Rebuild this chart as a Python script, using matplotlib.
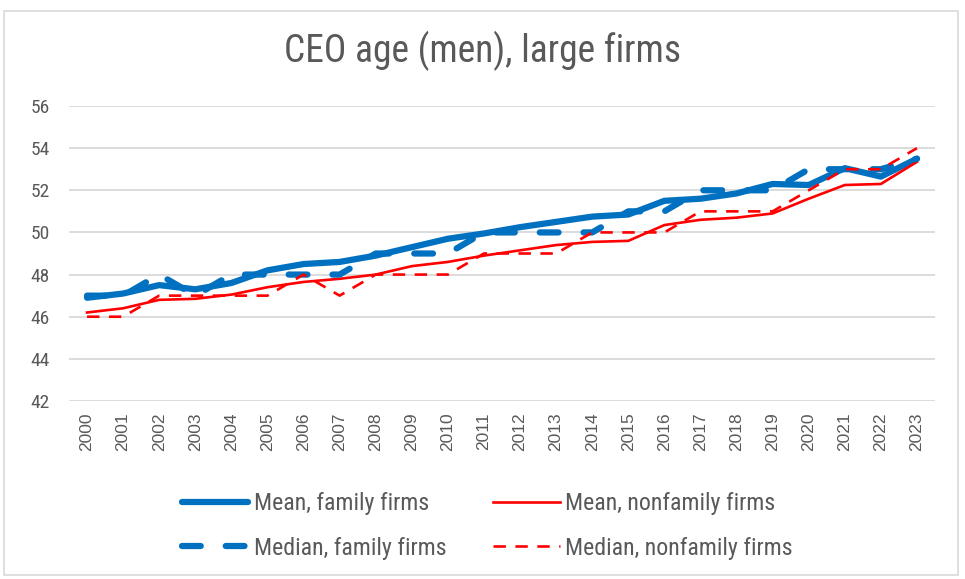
import matplotlib.pyplot as plt
from matplotlib.patches import Rectangle
from matplotlib import font_manager

# CEO age of men running large firms, family vs nonfamily
years = [str(y) for y in range(2000, 2024)]

mean_family = [46.9, 47.1, 47.5, 47.3, 47.6, 48.2, 48.5, 48.6, 48.9, 49.3,
               49.7, 49.95, 50.25, 50.5, 50.75, 50.85, 51.5, 51.6, 51.85, 52.3,
               52.25, 53.05, 52.65, 53.5]
mean_nonfamily = [46.2, 46.4, 46.8, 46.85, 47.05, 47.4, 47.65, 47.8, 48.0, 48.4,
                  48.6, 48.9, 49.15, 49.4, 49.55, 49.6, 50.35, 50.6, 50.7, 50.9,
                  51.6, 52.25, 52.3, 53.35]
median_family = [47, 47, 48, 47, 48, 48, 48, 48, 49, 49,
                 49, 50, 50, 50, 50, 51, 51, 52, 52, 52,
                 53, 53, 53, 53.5]
median_nonfamily = [46, 46, 47, 47, 47, 47, 48, 47, 48, 48,
                    48, 49, 49, 49, 50, 50, 50, 51, 51, 51,
                    52, 53, 53, 54]

names = {f.name for f in font_manager.fontManager.ttflist}
narrow = 'Roboto'
for cand in ['Liberation Sans Narrow', 'Roboto Condensed', 'Open Sans Condensed',
             'Noto Sans Condensed']:
    if cand in names:
        narrow = cand
        break
condensed = narrow != 'Roboto'
grey = '#595959'
blue = '#0070C0'
red = '#FF0000'

fig = plt.figure(figsize=(9.65, 5.79), dpi=100)
ax = fig.add_axes([69 / 965, 1 - 401 / 579, 866 / 965, 295 / 579])

x = range(len(years))
l1, = ax.plot(x, mean_family, color=blue, lw=4.5, solid_capstyle='round',
              solid_joinstyle='round', zorder=3)
l2, = ax.plot(x, mean_nonfamily, color=red, lw=1.9, zorder=4)
l3, = ax.plot(x, median_family, color=blue, lw=4.5, dashes=(3.0, 4.0),
              dash_capstyle='round', zorder=5)
l4, = ax.plot(x, median_nonfamily, color=red, lw=1.9, dashes=(4.7, 3.6), zorder=6)

ax.set_xlim(-0.5, len(years) - 0.5)
ax.set_ylim(42, 56)
ax.set_yticks(range(42, 57, 2))
ax.set_xticks(list(x))
ax.set_xticklabels(years, rotation=90, fontsize=12.5, color=grey,
                   family='Liberation Sans')
for lab in ax.get_yticklabels():
    lab.set_family(narrow)
    lab.set_fontsize(14 if condensed else 12.5)
    lab.set_color(grey)
ax.tick_params(axis='x', length=0, pad=8)
ax.tick_params(axis='y', length=0, pad=14)
ax.grid(axis='y', color='#D9D9D9', lw=1.3)
ax.set_axisbelow(True)
for s in ax.spines.values():
    s.set_visible(False)

fig.text(0.5, 1 - 51 / 579, 'CEO age (men), large firms', ha='center', va='center',
         fontsize=27 if condensed else 24, color=grey, family=narrow)

leg = fig.legend([l1, l3, l2, l4],
                 ['Mean, family firms', 'Median, family firms',
                  'Mean, nonfamily firms', 'Median, nonfamily firms'],
                 ncol=2, loc='center left', bbox_to_anchor=(160 / 965, 1 - 526 / 579),
                 frameon=False, handlelength=2.8, handletextpad=0.22,
                 columnspacing=1.95, labelspacing=0.9,
                 prop={'family': narrow, 'size': 17.2 if condensed else 15})
for t in leg.get_texts():
    t.set_color(grey)

# chart frame
fig.patches.append(Rectangle((4 / 965, 4 / 579), 954 / 965, 564 / 579,
                             transform=fig.transFigure, fill=False,
                             edgecolor='#D9D9D9', lw=1.2))

fig.savefig('out.png', dpi=100)
